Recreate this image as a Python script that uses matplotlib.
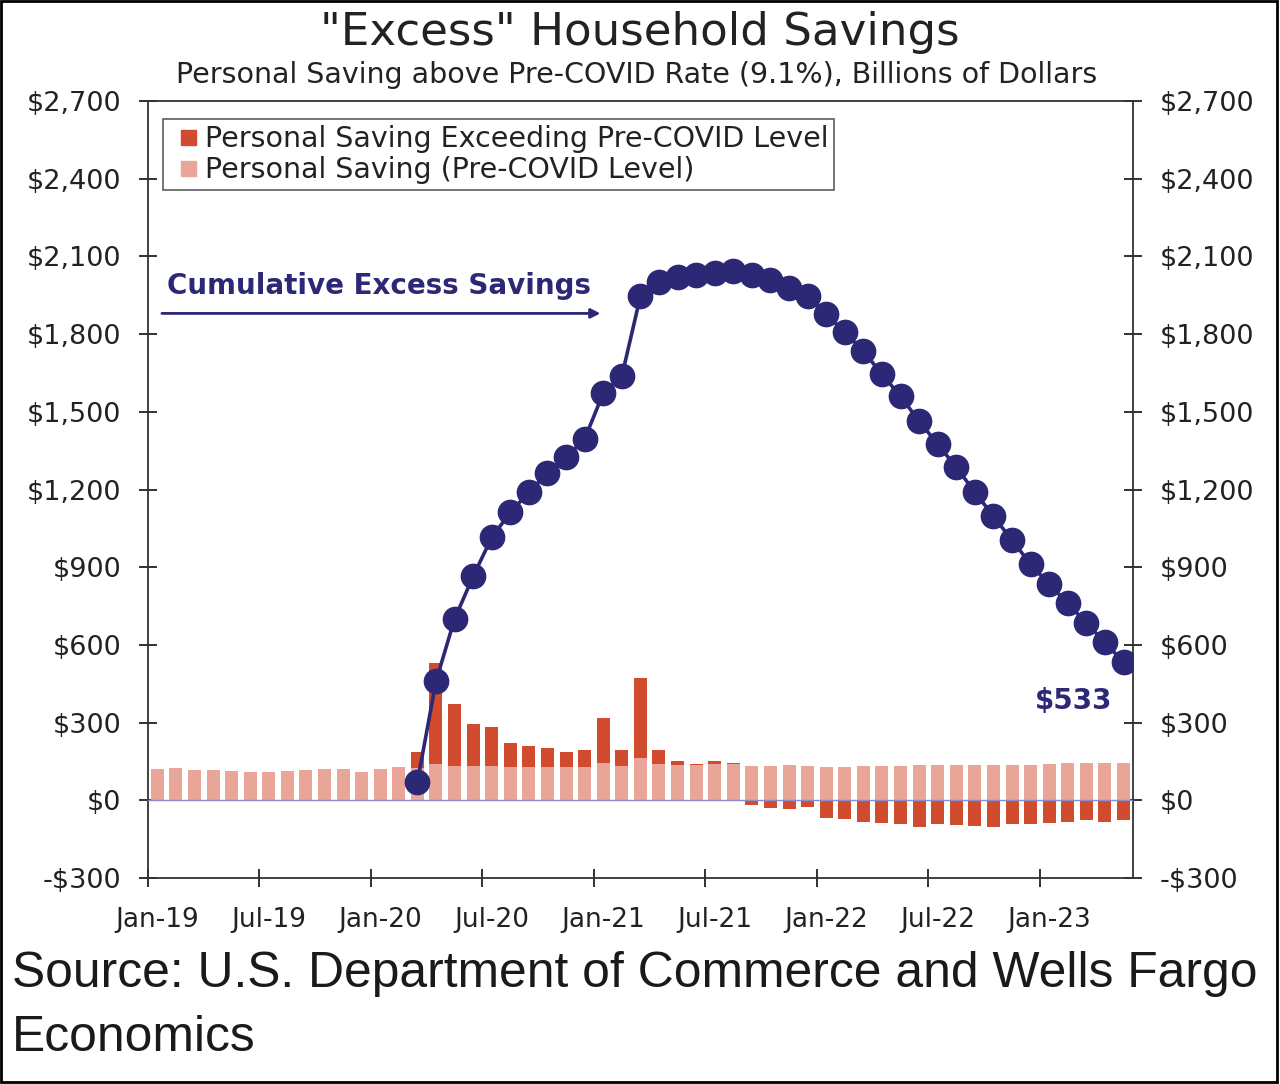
import numpy as np
import matplotlib.pyplot as plt
from matplotlib.patches import Patch, Rectangle
from matplotlib.legend_handler import HandlerPatch

# monthly data, Jan-19 .. May-23 (billions of dollars)
tick_labels = ["Jan-19", "Jul-19", "Jan-20", "Jul-20", "Jan-21", "Jul-21", "Jan-22", "Jul-22", "Jan-23"]

pre_covid = [120, 124, 118, 116, 112, 111, 109, 115, 118, 120, 120, 111, 122, 127,
             125, 139, 133, 133, 133, 129, 130, 130, 130, 130, 143, 133, 162, 139,
             136, 136, 142, 139, 133, 133, 135, 133, 129, 130, 131, 131, 133, 135,
             135, 136, 136, 137, 138, 138, 142, 143, 144, 145, 146]
excess = [0, 0, 0, 0, 0, 0, 0, 0, 0, 0, 0, 0, 0, 0,
          62, 390, 238, 161, 150, 92, 79, 71, 58, 66, 174, 61, 309, 55,
          16, 4, 8, 4, -18, -31, -32, -24, -70, -73, -84, -89, -91, -103,
          -93, -95, -99, -102, -93, -93, -88, -84, -77, -84, -77]
# cumulative excess savings, Mar-20 .. May-23
cumulative = [70, 460, 700, 865, 1015, 1112, 1190, 1263, 1325, 1395, 1572, 1637, 1946,
              2000, 2020, 2028, 2035, 2043, 2028, 2008, 1977, 1946, 1877, 1807, 1734,
              1645, 1560, 1464, 1375, 1286, 1190, 1097, 1004, 912, 834, 761, 684, 610, 533]

RED = "#d14b2f"
PINK = "#e9a597"
NAVY = "#2c2875"
TXT = "#222222"

fig = plt.figure(figsize=(12.8, 10.84), dpi=100)
ax = fig.add_axes([0.1156, 0.19, 0.885 - 0.1156, 0.9068 - 0.19])

n = len(pre_covid)
x = np.arange(n) + 0.5
pre = np.array(pre_covid, dtype=float)
exc = np.array(excess, dtype=float)
bottom = np.where(exc > 0, pre, 0)

ax.bar(x, pre, width=0.7, color=PINK, zorder=2)
ax.bar(x, exc, width=0.7, bottom=bottom, color=RED, zorder=2)
ax.axhline(0, color="#8c8cd0", lw=1, zorder=3)

xc = x[n - len(cumulative):]
ax.plot(xc, cumulative, color=NAVY, lw=2.6, marker="o", markersize=17.5, zorder=4)

ax.set_xlim(0, n)
ax.set_ylim(-300, 2700)
yt = np.arange(-300, 2701, 300)
ylab = [("-$%s" % format(-v, ",")) if v < 0 else "$%s" % format(v, ",") for v in yt]
ax.set_yticks(yt)
ax.set_yticklabels(ylab)

# tick marks at month starts, labels centred on that month's bar
ax.set_xticks(np.arange(0, 49, 6))
ax.set_xticklabels([])
ax.set_xticks(np.arange(0, 49, 6) + 0.5, minor=True)
ax.set_xticklabels(tick_labels, minor=True)
ax.tick_params(axis="x", which="minor", length=0, labelsize=19, colors=TXT, pad=21)

ax.tick_params(axis="both", which="major", direction="inout", length=12.5, width=1.3,
               labelsize=19.5, colors=TXT, pad=13)
ax.tick_params(axis="y", right=True, labelright=True)
for s in ax.spines.values():
    s.set_linewidth(1.3)
    s.set_color("#333333")


def square_handle(legend, orig_handle, xdescent, ydescent, width, height, fontsize):
    sq = 10.8
    return Rectangle((-xdescent + width - sq, -ydescent + (height - sq) / 2), sq, sq)


handles = [Patch(color=RED, label="Personal Saving Exceeding Pre-COVID Level"),
           Patch(color=PINK, label="Personal Saving (Pre-COVID Level)")]
leg = ax.legend(handles=handles, loc="upper left", bbox_to_anchor=(0.015, 0.977),
                fontsize=20.5, frameon=True, fancybox=False, handlelength=0.95,
                handleheight=0.7, handletextpad=0.3, borderpad=0.22, labelspacing=0.1,
                borderaxespad=0,
                handler_map={Patch: HandlerPatch(patch_func=square_handle)})
leg.get_frame().set_edgecolor("#333333")
leg.get_frame().set_linewidth(1.2)
for t in leg.get_texts():
    t.set_color(TXT)

ax.annotate("", xy=(24.5, 1880), xytext=(0.6, 1880),
            arrowprops=dict(arrowstyle="-|>", color=NAVY, lw=2, mutation_scale=14))
ax.text(1.0, 1985, "Cumulative Excess Savings", color=NAVY, fontsize=20,
        fontweight="bold", ha="left", va="center")
ax.text(49.8, 385, "$533", color=NAVY, fontsize=20, fontweight="bold",
        ha="center", va="center")

fig.text(0.5, 0.97, '"Excess" Household Savings', ha="center", va="center",
         fontsize=32.5, color=TXT)
fig.text(0.497, 0.931, "Personal Saving above Pre-COVID Rate (9.1%), Billions of Dollars",
         ha="center", va="center", fontsize=20.5, color=TXT)
fig.text(0.009, 0.0715, "Source: U.S. Department of Commerce and Wells Fargo\nEconomics",
         ha="left", va="center", fontsize=35.8, family="Liberation Sans",
         color="#1a1a1a", linespacing=1.5)

fig.patches.append(Rectangle((0.001, 0.002), 0.997, 0.997, transform=fig.transFigure,
                             fill=False, edgecolor="black", lw=2))

fig.savefig("out.png", dpi=100)
